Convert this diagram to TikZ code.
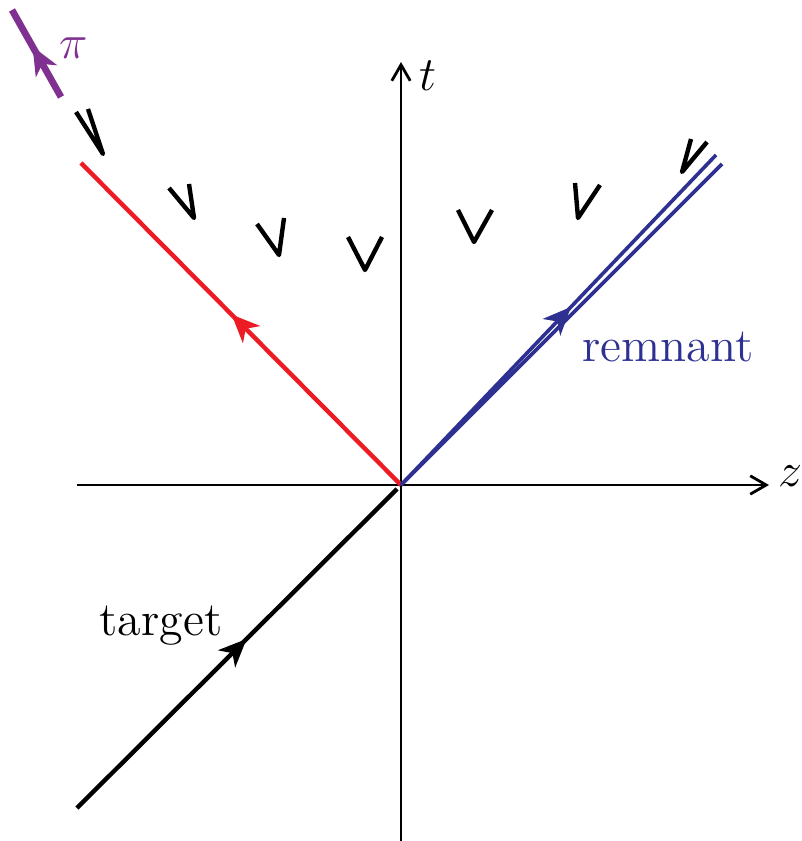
\documentclass[tikz,border=0pt]{standalone}
\usetikzlibrary{arrows.meta,decorations.markings}
\definecolor{lcred}{RGB}{237,28,36}
\definecolor{lcblue}{RGB}{46,49,146}
\definecolor{lcpurple}{RGB}{128,48,145}
\begin{document}
\begin{tikzpicture}[x=0.25pt,y=-0.25pt,
  every node/.style={font=\fontsize{12}{14}\selectfont},
  axis/.style={line width=0.7pt,-{Straight Barb[length=4pt,width=4.6pt]}},
  worldline/.style={line width=1.1pt},
  wedge/.style={line width=1.1pt,line join=round},
  mid arrow/.style={postaction={decorate},decoration={markings,
    mark=at position #1 with {\arrow{Stealth[length=7pt,width=6pt,inset=2pt]}}}}]
  \useasboundingbox (0,0) rectangle (801,841);
  \coordinate (O) at (401,485);
  \coordinate (zL) at (77,485); \coordinate (zR) at (769,485);
  \coordinate (tB) at (401,841); \coordinate (tT) at (401,62);
  \draw[axis] (zL)--(zR); \draw[axis] (tB)--(tT);
  \node[anchor=base] (zlab) at (790,487) {$z$};
  \node[anchor=base] (tlab) at (428,91) {$t$};
  % incoming target, outgoing pion and remnant
  \coordinate (tgt) at (77,808); \coordinate (tgtend) at (397,489);
  \draw[worldline,mid arrow=0.53] (tgt)--(tgtend);
  \node[anchor=base] (tgtlab) at (161,635) {target};
  \coordinate (pion) at (81,163);
  \draw[worldline,lcred,mid arrow=0.53] (O)--(pion);
  \coordinate (remA) at (716,155); \coordinate (remB) at (722,164);
  \draw[worldline,lcblue,line width=0.9pt,mid arrow=0.54] (O)--(remA);
  \draw[worldline,lcblue,line width=0.9pt] (O)--(remB);
  \node[anchor=base,text=lcblue] (remlab) at (668,362) {remnant};
  \coordinate (piA) at (61,97); \coordinate (piB) at (12,10);
  \draw[lcpurple,line width=1.7pt,mid arrow=0.58] (piA)--(piB);
  \node[anchor=base,text=lcpurple] (pilab) at (74,59) {$\pi$};
  % local light cones along the string
  \foreach \la/\lb/\va/\vb/\ra/\rb in {76/112/103/154/88/109, 169/188/194/218/189/184,
      257/224/279/255/284/218, 348/237/365/270/382/237, 458/210/474/242/492/210,
      575/183/578/218/600/185, 691/139/682/172/707/142}
    \draw[wedge] (\la,\lb)--(\va,\vb)--(\ra,\rb);
\end{tikzpicture}
\end{document}
